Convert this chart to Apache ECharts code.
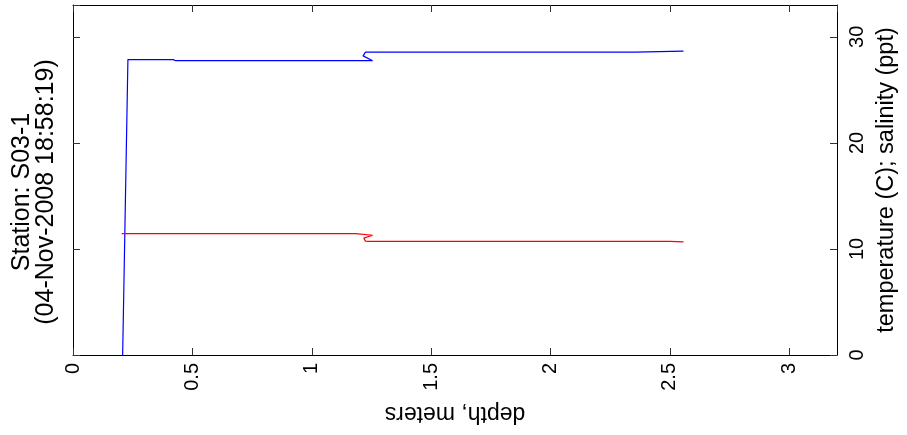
<!DOCTYPE html>
<html>
<head>
<meta charset="utf-8">
<script src="https://cdn.jsdelivr.net/npm/echarts@6/dist/echarts.min.js"></script>
<style>html,body{margin:0;padding:0;background:#fff;}#c{width:907px;height:435px;}</style>
</head>
<body>
<div id="c"></div>
<script>
// depth (m) vs value
var salinityDepth = [0.208, 0.230, 0.420, 0.430, 1.255, 1.215, 1.225, 1.240, 2.355, 2.360, 2.557];
var salinityValue = [0.0, 27.85, 27.85, 27.75, 27.75, 28.20, 28.55, 28.55, 28.55, 28.65, 28.65];
var tempDepth = [0.204, 1.184, 1.190, 1.255, 1.218, 1.225, 1.240, 2.500, 2.505, 2.557];
var tempValue = [11.45, 11.45, 11.29, 11.29, 11.02, 10.74, 10.72, 10.72, 10.66, 10.66];
var xTicks = [0, 0.5, 1, 1.5, 2, 2.5, 3];
var yTicks = [0, 10, 20, 30];
var titleLines = ['Station: S03-1', '(04-Nov-2008 18:58:19)'];
var xName = 'depth, meters';
var yName = 'temperature (C); salinity (ppt)';

function pairs(a, b) { return a.map(function (v, i) { return [v, b[i]]; }); }

var FONT = 'Liberation Sans, Arial, Helvetica, sans-serif';
var chart = echarts.init(document.getElementById('c'));
var axisLineStyle = { color: '#000', width: 1 };
var TL = 7;
var tickStyle = { color: '#333', width: 1 };
chart.setOption({
  animation: false,
  backgroundColor: '#fff',
  grid: { left: 73, right: 69, top: 5, bottom: 80, containLabel: false },
  xAxis: [{
    type: 'value', min: 0, max: 3.2, interval: 0.5, position: 'bottom',
    axisLine: { show: true, onZero: false, lineStyle: axisLineStyle },
    axisTick: { show: true, inside: true, length: TL, lineStyle: tickStyle },
    splitLine: { show: false },
    axisLabel: {
      rotate: 90, margin: 8, color: '#000', fontFamily: FONT, fontSize: 20,
      showMaxLabel: false,
      formatter: function (v) { return xTicks.indexOf(+v.toFixed(2)) >= 0 ? String(+v.toFixed(2)) : ''; }
    },
    name: xName, nameLocation: 'middle', nameGap: 47, nameRotate: 180,
    nameTextStyle: { color: '#000', fontFamily: FONT, fontSize: 23 }
  }, {
    type: 'value', min: 0, max: 3.2, interval: 0.5, position: 'top',
    axisLine: { show: true, onZero: false, lineStyle: axisLineStyle },
    axisTick: { show: true, inside: true, length: TL, lineStyle: tickStyle },
    axisLabel: { show: false }, splitLine: { show: false }
  }],
  yAxis: [{
    type: 'value', min: 0, max: 33, interval: 10, position: 'right',
    axisLine: { show: true, onZero: false, lineStyle: axisLineStyle },
    axisTick: { show: true, inside: true, length: TL, lineStyle: tickStyle },
    splitLine: { show: false },
    axisLabel: {
      rotate: 90, margin: 10, color: '#000', fontFamily: FONT, fontSize: 20,
      showMaxLabel: false,
      formatter: function (v) { return yTicks.indexOf(v) >= 0 ? String(v) : ''; }
    },
    name: yName, nameLocation: 'middle', nameGap: 38, nameRotate: 90,
    nameTextStyle: { color: '#000', fontFamily: FONT, fontSize: 23.5 }
  }, {
    type: 'value', min: 0, max: 33, interval: 10, position: 'left',
    axisLine: { show: true, onZero: false, lineStyle: axisLineStyle },
    axisTick: { show: true, inside: true, length: TL, lineStyle: tickStyle },
    axisLabel: { show: false }, splitLine: { show: false }
  }],
  graphic: [{
    type: 'text', x: 34, y: 192, rotation: Math.PI / 2,
    style: {
      text: titleLines.join('\n'), align: 'center', verticalAlign: 'middle',
      fontFamily: FONT, fontSize: 25, lineHeight: 24, fill: '#000'
    }
  }],
  series: [{
    type: 'line', data: pairs(salinityDepth, salinityValue), xAxisIndex: 0, yAxisIndex: 0,
    showSymbol: false, symbol: 'none', lineStyle: { color: '#0000ff', width: 1.2 }, z: 3
  }, {
    type: 'line', data: pairs(tempDepth, tempValue), xAxisIndex: 0, yAxisIndex: 0,
    showSymbol: false, symbol: 'none', lineStyle: { color: '#ff0000', width: 1.2 }, z: 3
  }]
});
</script>
</body>
</html>
